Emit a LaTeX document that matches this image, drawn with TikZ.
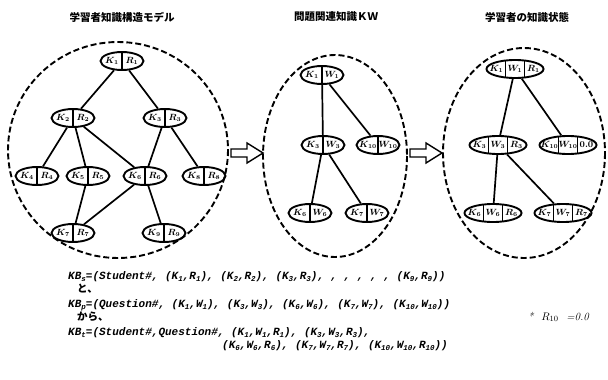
\documentclass[tikz,border=0pt]{standalone}
\usepackage{fontspec}
\setmonofont{Liberation Mono}
\newfontfamily\jpfont{Noto Sans CJK JP}
\usetikzlibrary{shapes.geometric,calc}
\newcommand\lowi[1]{\raisebox{-2.4pt}{\fontsize{7.5}{7.5}\selectfont #1}}
\tikzset{
  kw2/.style={ellipse,draw,line width=1.9pt,minimum width=43pt,minimum height=18pt,inner sep=0pt},
  kw3/.style={ellipse,draw,line width=1.9pt,minimum width=57pt,minimum height=18pt,inner sep=0pt},
  divline/.style={line width=1.2pt},
  lab/.style={inner sep=0pt,font=\fontsize{9}{9}\selectfont\boldmath},
  edge/.style={line width=1.7pt},
  dashline/.style={line width=1.9pt,dash pattern=on 6pt off 3pt},
  blockarrow/.style={line width=1.4pt,fill=white,line join=miter},
  ttl/.style={font=\jpfont\bfseries\fontsize{10.5}{12}\selectfont,inner sep=0pt},
  frm/.style={anchor=base west,inner sep=0pt,font=\ttfamily\bfseries\itshape\fontsize{11}{12}\selectfont},
  jpl/.style={anchor=base west,inner sep=0pt,font=\jpfont\bfseries\fontsize{10.5}{12}\selectfont}
}
\newcommand\mkTwo[5]{%
  \node[kw2] (#1) at (#2,#3) {};
  \draw[divline] (#1.north) -- (#1.south);
  \node[lab] at ($(#1)+(-10,0)$) {#4};
  \node[lab] at ($(#1)+(10,0)$) {#5};
}
\newcommand\mkThree[6]{%
  \node[kw3] (#1) at (#2,#3) {};
  \draw[divline] ($(#1)+(-9.5,-8.5)$) -- ($(#1)+(-9.5,8.5)$);
  \draw[divline] ($(#1)+(9.5,-8.5)$) -- ($(#1)+(9.5,8.5)$);
  \node[lab] at ($(#1)+(-18.5,0)$) {#4};
  \node[lab] at ($(#1)+(0,0)$) {#5};
  \node[lab] at ($(#1)+(18.5,0)$) {#6};
}
\begin{document}
\begin{tikzpicture}[x=1pt,y=-1pt]
\useasboundingbox (0,0) rectangle (608,380);
% titles
\node[ttl] (t1) at (122,17) {学習者知識構造モデル};
\node[ttl] (t2) at (336,17) {問題関連知識ＫＷ};
\node[ttl] (t3) at (527,17) {学習者の知識状態};
% left structure
\draw[dashline] (118,150) ellipse [x radius=110, y radius=108];
\mkTwo{a1}{122}{61}{$K_1$}{$R_1$}
\mkTwo{a2}{73}{118}{$K_2$}{$R_2$}
\mkTwo{a3}{165}{118}{$K_3$}{$R_3$}
\mkTwo{a4}{37}{176}{$K_4$}{$R_4$}
\mkTwo{a5}{88}{176}{$K_5$}{$R_5$}
\mkTwo{a6}{145}{176}{$K_6$}{$R_6$}
\mkTwo{a7}{204}{176}{$K_8$}{$R_8$}
\mkTwo{a8}{73}{233}{$K_7$}{$R_7$}
\mkTwo{a9}{164}{233}{$K_9$}{$R_9$}
\draw[edge] (a1) -- (a2);
\draw[edge] (a1) -- (a3);
\draw[edge] (a2) -- (a4);
\draw[edge] (a2) -- (a5);
\draw[edge] (a2) -- (a6);
\draw[edge] (a3) -- (a6);
\draw[edge] (a3) -- (a7);
\draw[edge] (a5) -- (a8);
\draw[edge] (a6) -- (a8);
\draw[edge] (a6) -- (a9);
% middle
\draw[dashline] (335,156) ellipse [x radius=72, y radius=101];
\mkTwo{b1}{322}{75}{$K_1$}{$W_1$}
\mkTwo{b2}{323}{145}{$K_3$}{$W_3$}
\mkTwo{b3}{378}{145}{$K_{10}$}{$W_{10}$}
\mkTwo{b4}{310}{213}{$K_6$}{$W_6$}
\mkTwo{b5}{367}{213}{$K_7$}{$W_7$}
\draw[edge] (b1) -- (b2);
\draw[edge] (b1) -- (b3);
\draw[edge] (b2) -- (b4);
\draw[edge] (b2) -- (b5);
% right
\draw[dashline] (524,153) ellipse [x radius=81, y radius=105];
\mkThree{c1}{515}{69}{$K_1$}{$W_1$}{$R_1$}
\mkThree{c2}{498}{145}{$K_3$}{$W_3$}{$R_3$}
\mkThree{c3}{568}{145}{$K_{10}$}{$W_{10}$}{$0.0$}
\mkThree{c4}{493}{213}{$K_6$}{$W_6$}{$R_6$}
\mkThree{c5}{563}{213}{$K_7$}{$W_7$}{$R_7$}
\draw[edge] (c1) -- (c2);
\draw[edge] (c1) -- (c3);
\draw[edge] (c2) -- (c4);
\draw[edge] (c2) -- (c5);
% block arrows
\draw[blockarrow] (231,149) -- (247,149) -- (247,143) -- (263,153) -- (247,163) -- (247,157) -- (231,157) -- cycle;
\draw[blockarrow] (410,149) -- (426,149) -- (426,143) -- (442,153) -- (426,163) -- (426,157) -- (410,157) -- cycle;
% formulas
\node[frm] (f1) at (68,279) {KB\lowi{s}=(Student\#, (K\lowi{1},R\lowi{1}), (K\lowi{2},R\lowi{2}), (K\lowi{3},R\lowi{3}), , , , , , (K\lowi{9},R\lowi{9}))};
\node[jpl] (j1) at (77,292) {と、};
\node[frm] (f2) at (68,307) {KB\lowi{p}=(Question\#, (K\lowi{1},W\lowi{1}), (K\lowi{3},W\lowi{3}), (K\lowi{6},W\lowi{6}), (K\lowi{7},W\lowi{7}), (K\lowi{10},W\lowi{10}))};
\node[jpl] (j2) at (77,320) {から、};
\node[anchor=base west,inner sep=0pt,font=\itshape\fontsize{11}{12}\selectfont] (note) at (528,320) {* \ $R_{10}$ \ =0.0};
\node[frm] (f3) at (68,335) {KB\lowi{t}=(Student\#,Question\#, (K\lowi{1},W\lowi{1},R\lowi{1}), (K\lowi{3},W\lowi{3},R\lowi{3}),};
\node[frm] (f4) at (222,348) {(K\lowi{6},W\lowi{6},R\lowi{6}), (K\lowi{7},W\lowi{7},R\lowi{7}), (K\lowi{10},W\lowi{10},R\lowi{10}))};
\end{tikzpicture}
\end{document}
